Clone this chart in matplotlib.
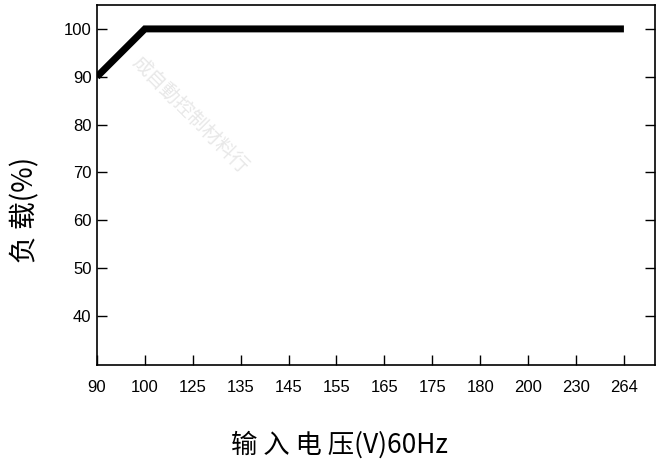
import numpy as np
import matplotlib.pyplot as plt

### data ###
voltage_labels = ['90', '100', '125', '135', '145', '155', '165', '175', '180', '200', '230', '264']
curve_idx = [0, 1, 11]          # 90V, 100V, 264V on the category axis
curve_load = [90, 100, 100]
y_ticks = [40, 50, 60, 70, 80, 90, 100]

narrow = ['Liberation Sans Narrow', 'Liberation Sans', 'Noto Sans CJK SC']
cjk = ['Noto Sans CJK SC', 'Liberation Sans']
plt.rcParams['font.family'] = narrow

fig = plt.figure(figsize=(6.61, 4.72), dpi=100)
ax = fig.add_axes([0.1467, 0.2267, 0.8443, 0.7627])

ax.plot(curve_idx, curve_load, '-', color='black', lw=5, solid_capstyle='butt', solid_joinstyle='miter')

ax.set_xlim(0, 11.65)
ax.set_ylim(29.7, 105)

ax.set_xticks(np.arange(len(voltage_labels)))
ax.set_xticklabels(voltage_labels, fontsize=12)
ax.tick_params(axis='x', which='major', direction='in', length=7, width=1, pad=11)

ax.set_yticks(y_ticks)
ax.tick_params(axis='y', which='major', direction='in', length=7, width=1,
               right=True, labelsize=12, pad=4)

for s in ax.spines.values():
    s.set_linewidth(1.2)

ax.set_ylabel('负 载(%)', fontsize=20, family=cjk)
ax.yaxis.set_label_coords(-0.102, 0.43)
ax.set_xlabel('输 入 电 压(V)60Hz', fontsize=19, family=cjk)
ax.xaxis.set_label_coords(0.435, -0.183)

# faint watermark
ax.text(0.167, 0.694, '成自動控制材料行', transform=ax.transAxes, rotation=-45,
        fontsize=14, color='#e8e8e8', family=cjk, ha='center', va='center', zorder=0)

plt.savefig('out.png', dpi=100)
